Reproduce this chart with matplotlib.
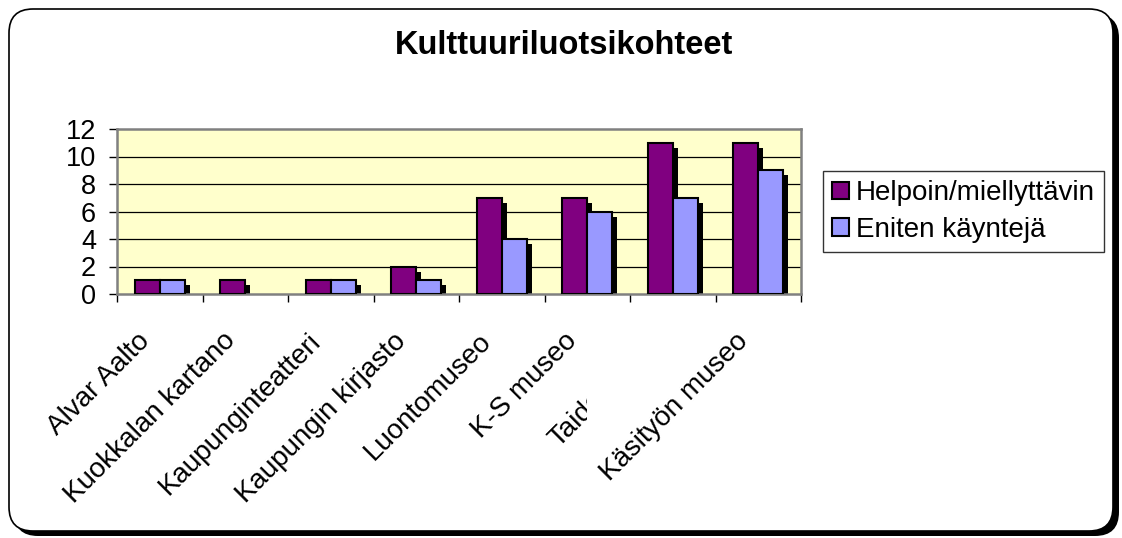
import numpy as np
import matplotlib
matplotlib.use("Agg")
import matplotlib.pyplot as plt
from matplotlib.patches import FancyBboxPatch, Patch
from matplotlib.transforms import ScaledTranslation, Bbox

plt.rcParams['font.family'] = ['Liberation Sans', 'DejaVu Sans']

# data
categories = ["Alvar Aalto", "Kuokkalan kartano", "Kaupunginteatteri",
              "Kaupungin kirjasto", "Luontomuseo", "K-S museo",
              "Taidemuseo", "Käsityön museo"]
helpoin = [1, 1, 1, 2, 7, 7, 11, 11]
eniten = [1, 0, 1, 1, 4, 6, 7, 9]
series_names = ["Helpoin/miellyttävin", "Eniten käyntejä"]
yticks = [0, 2, 4, 6, 8, 10, 12]

purple = "#800080"
lilac = "#9999FF"

W, H = 1122, 538
fig = plt.figure(figsize=(W / 100, H / 100), dpi=100)

# outer rounded frame with shadow (pixel coords)
bg = fig.add_axes([0, 0, 1, 1])
bg.set_xlim(0, W)
bg.set_ylim(H, 0)
bg.axis("off")
bg.add_patch(FancyBboxPatch((14, 14), 1105, 522, boxstyle="round,pad=0,rounding_size=24",
                            fc="black", ec="none"))
bg.add_patch(FancyBboxPatch((9, 9), 1104, 522, boxstyle="round,pad=0,rounding_size=24",
                            fc="white", ec="black", lw=1.2))

fig.text(564 / W, 1 - 46 / H, "Kulttuuriluotsikohteet", ha="center", va="center",
         fontsize=23.5, fontweight="bold")

ax = fig.add_axes([117 / W, 1 - 294 / H, 684 / W, 165 / H])
ax.set_facecolor("#FFFFCC")

x = np.arange(len(categories))
bw = 0.29
dx = 5 / 85.5
dy = 5 / 13.75

# drop shadows first, then the bars on top
for off, vals in [(-bw / 2, helpoin), (bw / 2, eniten)]:
    vals = np.array(vals, dtype=float)
    sh = np.clip(vals - dy, 0, None)
    ax.bar(x + off + dx, sh, bw, color="black", edgecolor="none", zorder=2)
for off, vals, col in [(-bw / 2, helpoin, purple), (bw / 2, eniten, lilac)]:
    ec = ["black" if v > 0 else "none" for v in vals]
    ax.bar(x + off, vals, bw, color=col, edgecolor=ec, linewidth=1.5, zorder=3)

ax.set_xlim(-0.5, len(categories) - 0.5)
ax.set_ylim(0, 12)
ax.set_yticks(yticks)
ax.tick_params(axis="y", labelsize=19.5, length=6, width=1, pad=9, colors="black")
for yv in yticks[1:-1]:
    ax.axhline(yv, color="black", lw=0.9, zorder=1)

ax.set_xticks(np.arange(-0.5, len(categories), 1), minor=True)
ax.set_xticks(x)
ax.set_xticklabels(categories, rotation=45, ha="right", rotation_mode="anchor",
                   va="center", fontsize=20)
ax.tick_params(axis="x", which="major", length=0, pad=31)
ax.tick_params(axis="x", which="minor", length=6, width=1, color="black")

for s in ax.spines.values():
    s.set_color("#808080")
    s.set_linewidth(1.8)

shift = ScaledTranslation(-14 / 100, 0, fig.dpi_scale_trans)
for lab in ax.get_xticklabels():
    lab.set_transform(lab.get_transform() + shift)
# the Taidemuseo label is cut off in the original by the neighbouring label
taid = ax.get_xticklabels()[6]
taid.set_clip_on(True)
taid.set_clip_box(Bbox.from_extents(0, 0, 587, H))

handles = [Patch(facecolor=purple, edgecolor="black", lw=1.5),
           Patch(facecolor=lilac, edgecolor="black", lw=1.5)]
leg = fig.legend(handles, series_names, loc="upper left",
                 bbox_to_anchor=(823 / W, 1 - 171 / H), bbox_transform=fig.transFigure,
                 fontsize=20, frameon=True, fancybox=False, edgecolor="black",
                 handlelength=0.6, handleheight=0.6, handletextpad=0.25,
                 labelspacing=0.38, borderpad=0.33, borderaxespad=0)
leg.get_frame().set_linewidth(1.0)

fig.savefig("out.png", dpi=100)
